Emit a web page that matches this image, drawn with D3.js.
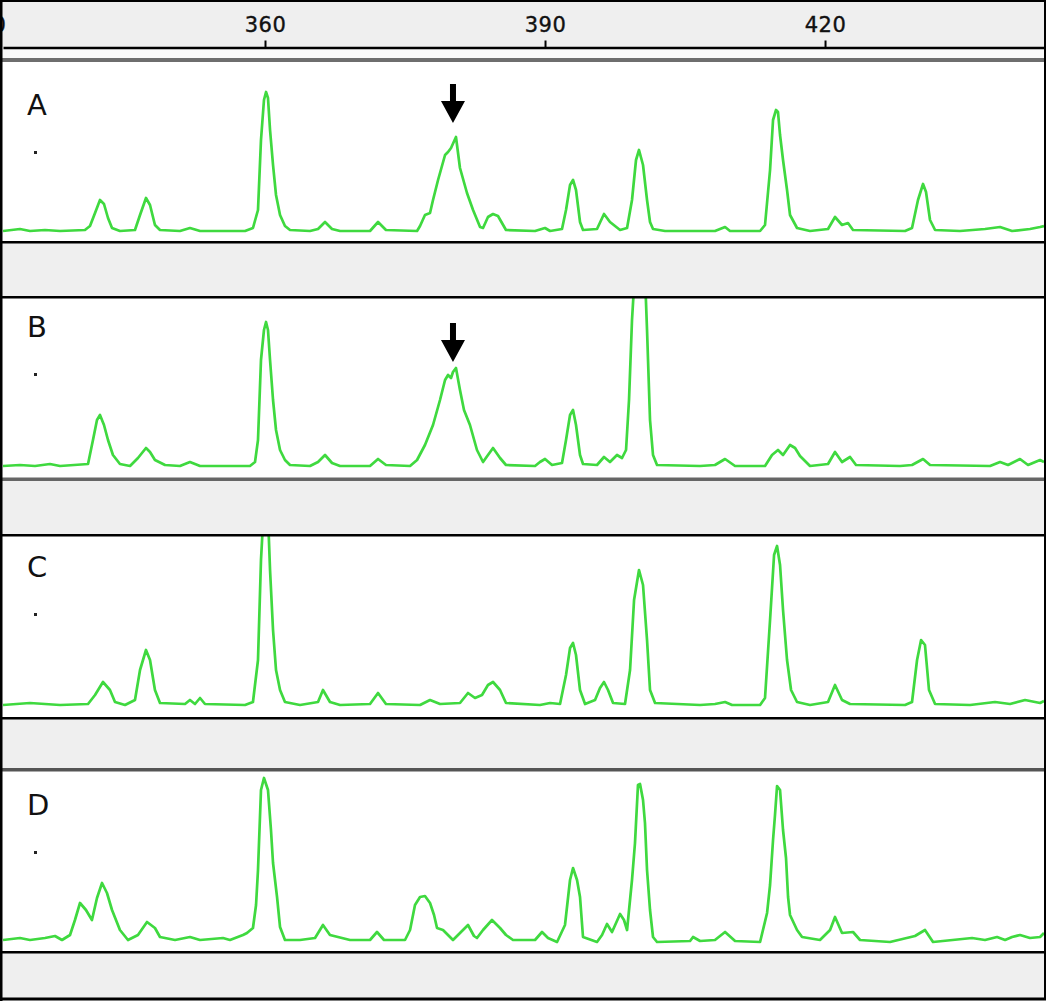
<!DOCTYPE html>
<html>
<head>
<meta charset="utf-8">
<script src="https://cdn.jsdelivr.net/npm/d3@7"></script>
<style>
body{margin:0;background:#fff}
svg{display:block}
</style>
</head>
<body>
<div id="chart"></div>
<script>
// fragment size (bp) on x, signal (rfu) on y
var laneNames = ["A","B","C","D"];
var tickValues = [330,360,390,420];

var traceA = [[331.93,0],[333.75,20],[334.82,0],[336.43,10],[338.04,0],[340.71,10],[341.25,50],[341.79,180],[342.32,310],[342.75,270],[343.18,130],[343.61,30],[344.46,0],[346.07,10],[346.61,160],[347.25,330],[347.68,260],[348.21,60],[348.75,10],[350.89,0],[351.96,30],[353.04,0],[357.86,0],[358.71,30],[359.25,210],[359.57,910],[359.89,1310],[360.11,1390],[360.32,1330],[360.54,1010],[360.86,660],[361.18,360],[361.61,160],[362.14,50],[362.68,10],[364.82,0],[365.68,20],[366.43,90],[367.18,20],[368.04,0],[371.25,0],[372.11,90],[372.96,10],[376.29,0],[376.61,50],[377.14,160],[377.68,180],[378.0,310],[378.54,510],[379.29,760],[379.61,790],[379.93,830],[380.46,940],[380.89,630],[381.64,380],[382.29,210],[383.04,40],[383.36,30],[383.89,140],[384.43,170],[384.96,150],[385.39,80],[385.82,10],[388.93,0],[390.0,30],[390.54,0],[391.82,20],[392.25,210],[392.68,460],[393.0,510],[393.32,410],[393.75,90],[394.07,10],[395.57,20],[396.32,170],[396.96,90],[398.04,10],[398.79,30],[399.32,310],[399.75,710],[400.07,810],[400.5,660],[400.93,310],[401.25,90],[401.57,20],[402.86,0],[408.21,0],[409.29,40],[409.82,0],[413.04,0],[413.57,60],[414.11,610],[414.43,1110],[414.75,1210],[414.96,1190],[415.18,960],[415.5,710],[415.93,410],[416.25,160],[417.0,30],[418.39,0],[420.32,20],[421.07,140],[421.82,60],[422.46,80],[423.0,10],[428.57,0],[429.32,30],[429.96,310],[430.5,470],[430.82,390],[431.25,110],[431.79,10],[434.46,0],[437.14,20],[438.75,40],[440.04,0],[441.96,20],[443.04,40],[443.46,50]];

var traceB = [[331.93,0],[333.75,10],[335.36,0],[336.96,20],[338.04,0],[341.04,20],[341.57,260],[342.0,460],[342.32,510],[342.75,410],[343.18,260],[343.71,110],[344.46,20],[345.54,0],[346.39,80],[347.25,180],[347.68,140],[348.21,60],[349.29,10],[350.89,0],[351.96,40],[353.04,0],[358.39,0],[358.93,40],[359.25,260],[359.57,1060],[359.89,1360],[360.11,1440],[360.32,1360],[360.54,1060],[360.86,660],[361.18,360],[361.61,160],[362.14,60],[362.68,10],[364.82,0],[365.68,40],[366.43,110],[367.18,30],[368.04,0],[371.25,0],[372.11,70],[372.96,10],[375.54,0],[376.29,60],[377.14,210],[378.0,410],[378.75,660],[379.29,860],[379.61,910],[379.93,880],[380.14,940],[380.46,980],[380.89,760],[381.32,560],[381.96,410],[382.71,160],[383.36,40],[383.89,110],[384.43,180],[385.18,80],[385.82,10],[388.93,0],[389.46,40],[390.0,70],[390.75,10],[391.82,30],[392.25,260],[392.68,510],[393.0,560],[393.32,410],[393.75,110],[394.07,20],[395.57,10],[396.32,90],[396.96,40],[397.71,110],[398.25,80],[398.68,160],[399.0,660],[399.32,1460],[399.64,1960],[400.18,2060],[400.71,1910],[400.93,1360],[401.25,460],[401.57,110],[402.0,10],[406.61,0],[408.21,10],[409.29,70],[410.36,0],[413.57,0],[414.32,110],[414.96,160],[415.5,110],[416.25,210],[416.79,180],[417.32,100],[418.39,0],[420.32,20],[421.07,140],[421.82,40],[422.68,90],[423.32,10],[428.04,0],[429.32,10],[430.5,70],[431.25,10],[437.68,0],[438.75,40],[439.61,10],[440.89,70],[441.75,10],[443.04,60],[443.46,40]];

var traceC = [[331.93,0],[334.82,20],[338.04,0],[341.04,10],[341.79,100],[342.64,230],[343.39,150],[343.93,30],[345.0,0],[346.07,50],[346.61,350],[347.25,550],[347.68,450],[348.21,150],[348.75,20],[351.43,10],[351.96,50],[352.5,10],[353.04,70],[353.57,10],[357.86,0],[358.71,30],[359.25,450],[359.57,1450],[359.89,2000],[360.11,2050],[360.32,1900],[360.54,1350],[360.86,750],[361.18,350],[361.61,150],[362.14,30],[363.75,0],[365.68,30],[366.21,150],[366.96,30],[368.04,0],[371.25,10],[372.11,120],[372.96,10],[376.61,0],[377.68,50],[378.75,10],[380.89,20],[381.75,120],[382.5,70],[383.25,100],[383.89,200],[384.43,230],[385.18,150],[385.82,20],[389.46,0],[390.54,20],[391.61,10],[392.25,300],[392.68,570],[393.0,620],[393.32,500],[393.75,150],[394.29,10],[395.36,50],[395.89,170],[396.32,230],[396.75,150],[397.29,20],[398.57,10],[399.11,350],[399.54,1050],[400.07,1350],[400.5,1200],[400.93,650],[401.25,150],[401.79,20],[406.61,0],[408.21,10],[409.29,30],[410.04,0],[413.04,0],[413.57,70],[414.11,850],[414.54,1500],[414.86,1590],[415.18,1400],[415.5,950],[415.93,450],[416.36,150],[417.0,30],[418.39,0],[420.32,30],[421.07,200],[421.82,50],[422.68,10],[428.57,0],[429.32,30],[429.86,450],[430.29,650],[430.71,600],[431.14,150],[431.79,10],[435.54,0],[438.21,30],[439.82,10],[441.43,50],[443.04,20],[443.46,40]];

var traceD = [[331.93,0],[333.75,20],[334.82,0],[336.43,20],[337.5,40],[338.25,0],[339.11,50],[339.64,200],[340.18,370],[340.82,300],[341.46,200],[342.0,420],[342.54,570],[343.07,470],[343.61,300],[344.46,100],[345.32,0],[346.39,50],[347.36,180],[348.21,120],[348.75,30],[350.36,0],[351.96,30],[353.04,0],[355.5,20],[356.25,0],[357.64,50],[358.07,70],[358.71,120],[359.04,350],[359.25,700],[359.57,1500],[359.89,1620],[360.32,1500],[360.64,1100],[360.86,770],[361.29,430],[361.61,130],[362.14,0],[363.75,0],[365.36,20],[366.21,150],[366.96,50],[368.25,20],[369.11,0],[371.25,0],[372.0,80],[372.75,0],[375.0,0],[375.54,100],[376.07,350],[376.61,430],[377.14,440],[377.68,370],[378.11,250],[378.43,120],[379.07,100],[380.14,0],[380.57,40],[381.75,150],[382.39,40],[382.71,20],[383.36,100],[384.32,200],[385.18,120],[385.82,50],[386.57,0],[388.93,0],[389.68,80],[390.32,20],[391.29,-20],[392.14,150],[392.68,600],[393.0,720],[393.43,600],[393.75,430],[394.07,30],[395.57,-20],[396.11,50],[396.64,160],[397.18,80],[398.04,260],[398.46,200],[398.79,100],[399.32,600],[399.64,970],[399.96,1550],[400.18,1560],[400.5,1400],[400.71,1170],[400.93,700],[401.25,300],[401.57,30],[402.0,-20],[405.54,-10],[405.86,30],[406.61,-10],[408.21,0],[409.29,80],[410.36,-10],[413.04,-20],[413.79,270],[414.11,550],[414.43,1000],[414.64,1250],[414.86,1540],[415.18,1500],[415.5,1100],[415.82,820],[416.04,430],[416.25,250],[417.0,100],[417.54,30],[419.46,0],[420.54,100],[421.07,230],[421.82,70],[423.0,80],[423.75,0],[426.96,-20],[429.64,40],[430.71,100],[431.57,-20],[435.75,20],[437.14,0],[438.43,30],[439.29,0],[440.04,30],[440.89,50],[441.96,20],[443.04,30],[443.46,70]];

var traces = [traceA, traceB, traceC, traceD];

// arrows marking the band of interest: lane, size (bp), signal at tip
var arrowLanes = ["A","B"];
var arrowBp = [380.14, 380.14];
var arrowRfu = [1080, 1040];

var width = 1050, height = 1001;
var left = 3, right = 1044;

// panel layout (pixels)
var lanes = [
  {top:62,  bottom:242, base:231, topLine:{y:58, h:4, c:"#6e6e6e"},   botLine:{y:241, h:2.5, c:"#000"}, labelY:115},
  {top:298, bottom:478, base:466, topLine:{y:296, h:2.5, c:"#000"},   botLine:{y:477.5, h:3.5, c:"#666"}, labelY:337},
  {top:536, bottom:717, base:705, topLine:{y:534, h:2.5, c:"#000"},   botLine:{y:717, h:2.5, c:"#000"}, labelY:577},
  {top:771, bottom:951, base:940, topLine:{y:768, h:3.5, c:"#555"},   botLine:{y:951, h:2.5, c:"#000"}, labelY:815}
];
var grayBands = [[2,45],[243,53],[480,55],[719,50],[953,45]];

var svg = d3.select("#chart").append("svg")
  .attr("width", width)
  .attr("height", height);

svg.append("rect").attr("width", width).attr("height", height).attr("fill", "#fff");

svg.selectAll("rect.band").data(grayBands)
  .enter().append("rect")
  .attr("class", "band")
  .attr("x", 2).attr("width", right - 2)
  .attr("y", d => d[0]).attr("height", d => d[1])
  .attr("fill", "#efefef");

// strip between axis and first lane
svg.append("rect").attr("x", 2).attr("width", right - 2)
  .attr("y", 49).attr("height", 9).attr("fill", "#f9f9f9");

var x = d3.scaleLinear()
  .domain([331.93, 443.46])
  .range([left, right]);

// top axis
var xaxis = d3.axisTop(x)
  .tickValues(tickValues)
  .tickSize(7)
  .tickSizeOuter(0)
  .tickPadding(9);

var gAxis = svg.append("g")
  .attr("transform", "translate(0,47.5)")
  .call(xaxis);
gAxis.select(".domain").attr("stroke", "#000").attr("stroke-width", 2.5);
gAxis.selectAll(".tick line").attr("stroke", "#000").attr("stroke-width", 2);
gAxis.selectAll(".tick text")
  .attr("fill", "#111")
  .attr("font-family", "DejaVu Sans, sans-serif")
  .attr("font-size", 21)
  .attr("stroke", "#111")
  .attr("stroke-width", 0.4)
  .style("letter-spacing", "0.5px");

var defs = svg.append("defs");

var line = d3.line();

lanes.forEach(function(lane, i) {
  var y = d3.scaleLinear()
    .domain([0, 1700])
    .range([lane.base, lane.base - 170]);

  defs.append("clipPath").attr("id", "clip" + i)
    .append("rect")
    .attr("x", left).attr("y", lane.top)
    .attr("width", right - left).attr("height", lane.bottom - lane.top);

  var g = svg.append("g");

  g.append("rect")
    .attr("x", left).attr("y", lane.top)
    .attr("width", right - left).attr("height", lane.bottom - lane.top)
    .attr("fill", "#fff");

  line.x(d => x(d[0])).y(d => y(d[1]));

  g.append("path")
    .datum(traces[i])
    .attr("clip-path", "url(#clip" + i + ")")
    .attr("d", line)
    .attr("fill", "none")
    .attr("stroke", "#3fd93f")
    .attr("stroke-width", 2.7)
    .attr("stroke-linejoin", "round");

  [lane.topLine, lane.botLine].forEach(function(s) {
    svg.append("rect")
      .attr("x", 2).attr("width", right - 2)
      .attr("y", s.y).attr("height", s.h)
      .attr("fill", s.c);
  });

  g.append("text")
    .attr("x", 27).attr("y", lane.labelY)
    .text(laneNames[i])
    .attr("fill", "#111")
    .style("font-family", "DejaVu Sans, sans-serif")
    .style("font-size", "29px");

  g.append("rect")
    .attr("x", 34).attr("y", lane.labelY + 36)
    .attr("width", 3).attr("height", 3)
    .attr("fill", "#222");

  arrowLanes.forEach(function(name, k) {
    if (name !== laneNames[i]) return;
    var ax = x(arrowBp[k]), ay = y(arrowRfu[k]);
    g.append("path")
      .attr("d", "M" + ax + "," + ay +
        "L" + (ax - 12) + "," + (ay - 22) +
        "L" + (ax - 3) + "," + (ay - 22) +
        "L" + (ax - 3) + "," + (ay - 39) +
        "L" + (ax + 3) + "," + (ay - 39) +
        "L" + (ax + 3) + "," + (ay - 22) +
        "L" + (ax + 12) + "," + (ay - 22) + "Z")
      .attr("fill", "#000");
  });
});

// outer frame
svg.append("rect").attr("x", 0).attr("y", 0).attr("width", 2.5).attr("height", height).attr("fill", "#000");
svg.append("rect").attr("x", 0).attr("y", 0).attr("width", 1046).attr("height", 2).attr("fill", "#000");
svg.append("rect").attr("x", 1044).attr("y", 0).attr("width", 2).attr("height", 1000).attr("fill", "#000");
svg.append("rect").attr("x", 0).attr("y", 997.5).attr("width", 1046).attr("height", 3).attr("fill", "#000");
</script>
</body>
</html>
